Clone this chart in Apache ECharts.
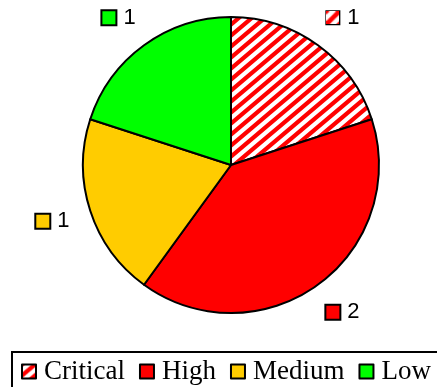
<!DOCTYPE html>
<html>
<head>
<meta charset="utf-8">
<script src="https://cdn.jsdelivr.net/npm/echarts@6/dist/echarts.min.js"></script>
<style>
  html, body { margin: 0; padding: 0; background: #fff; }
  #chart { width: 437px; height: 387px; }
</style>
</head>
<body>
<div id="chart"></div>
<script>
// Issue counts by severity
const categories = ['Critical', 'High', 'Medium', 'Low'];
const counts = [1, 2, 1, 1];
const fills = ['stripes', '#ff0000', '#ffcc00', '#00ff00'];

// Red/white diagonal hatching used for the "Critical" slice
function stripeCanvas(w, h, lw) {
  const c = document.createElement('canvas');
  c.width = w; c.height = h;
  const g = c.getContext('2d');
  g.fillStyle = '#ffffff';
  g.fillRect(0, 0, w, h);
  g.strokeStyle = '#ff0000';
  g.lineWidth = lw;
  g.beginPath();
  for (const o of [-w, 0, w]) {
    g.moveTo(o - w * 0.2, h + h * 0.2);
    g.lineTo(o + w * 1.2, -h * 0.2);
  }
  g.stroke();
  return c;
}
const hatch = stripeCanvas(13, 11, 4.2);
const fillOf = f => f === 'stripes' ? { image: hatch, repeat: 'repeat' } : f;

const numFont = '"Liberation Sans", Arial, sans-serif';
const rich = {
  v: { fontFamily: numFont, fontSize: 22, color: '#000', padding: [0, 0, 0, 8], verticalAlign: 'middle' }
};
categories.forEach((c, i) => {
  rich['i' + i] = {
    width: 13, height: 13,
    backgroundColor: fillOf(fills[i]),
    borderColor: '#000', borderWidth: 2,
    verticalAlign: 'middle'
  };
});

const chart = echarts.init(document.getElementById('chart'), null, { renderer: 'canvas' });
chart.setOption({
  animation: false,
  backgroundColor: '#ffffff',
  legend: {
    data: categories,
    left: 12,
    top: 352,
    width: 600,
    orient: 'horizontal',
    padding: [6, 9, 20, 9],
    borderColor: '#000',
    borderWidth: 2,
    itemWidth: 14,
    itemHeight: 14,
    itemGap: 14,
    icon: 'rect',
    itemStyle: { borderColor: '#000', borderWidth: 2 },
    textStyle: { fontFamily: '"Liberation Serif", "Times New Roman", serif', fontSize: 27, color: '#000', padding: [0, 0, 0, 3] }
  },
  series: [{
    type: 'pie',
    center: [231, 165],
    radius: 148,
    startAngle: 90,
    clockwise: true,
    avoidLabelOverlap: false,
    emphasis: { disabled: true },
    itemStyle: { borderColor: '#000', borderWidth: 2 },
    label: {
      show: true,
      position: 'outside',
      fontFamily: numFont,
      fontSize: 22,
      color: '#000',
      formatter: p => '{i' + p.dataIndex + '|}{v|' + p.value + '}',
      rich: rich
    },
    labelLine: { show: false, length: 34, length2: 0 },
    labelLayout: () => ({ align: 'center', verticalAlign: 'middle' }),
    data: categories.map((c, i) => ({
      name: c,
      value: counts[i],
      itemStyle: { color: fillOf(fills[i]) }
    }))
  }]
});
</script>
</body>
</html>
